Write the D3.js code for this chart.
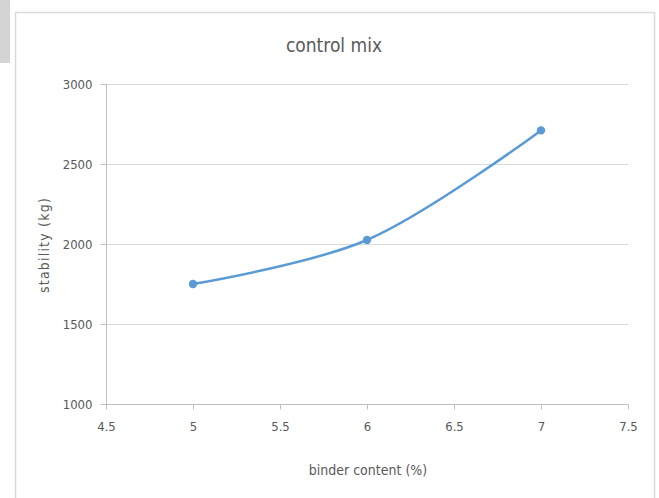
<!DOCTYPE html>
<html>
<head>
<meta charset="utf-8">
<script src="https://cdn.jsdelivr.net/npm/d3@7"></script>
<style>
  html, body { margin: 0; padding: 0; background: #fff; }
  svg text { font-family: "DejaVu Sans Condensed", "Liberation Sans Narrow", "Open Sans", sans-serif; }
</style>
</head>
<body>
<svg id="chart" width="659" height="498"></svg>
<script>
// Binder content (%) vs Marshall stability (kg) for the control mix
const binderContent = [5, 6, 7];
const stability = [1750, 2025, 2710];
const xTicks = [4.5, 5, 5.5, 6, 6.5, 7, 7.5];
const yTicks = [1000, 1500, 2000, 2500, 3000];

const svg = d3.select("#chart");

// chart frame
svg.append("rect").attr("x", 15.5).attr("y", 12.5).attr("width", 639).attr("height", 500)
  .attr("fill", "#fff").attr("stroke", "#d9d9d9").attr("stroke-width", 1.5);

// small gray tab at top-left corner
svg.append("rect").attr("x", 0).attr("y", 0).attr("width", 10).attr("height", 63).attr("fill", "#d4d4d4");

const x = d3.scaleLinear().domain([4.5, 7.5]).range([106, 628]);
const y = d3.scaleLinear().domain([1000, 3000]).range([404, 84]);

// horizontal gridlines
svg.append("g").selectAll("line").data(yTicks.filter(d => d > 1000)).join("line")
  .attr("x1", x(4.5)).attr("x2", x(7.5))
  .attr("y1", d => Math.round(y(d)) + 0.5).attr("y2", d => Math.round(y(d)) + 0.5)
  .attr("stroke", "#d9d9d9").attr("stroke-width", 1);

// y axis
const yAxis = svg.append("g").attr("transform", `translate(${x(4.5) + 0.5},0)`)
  .call(d3.axisLeft(y).tickValues(yTicks).tickSize(6).tickPadding(8).tickFormat(d3.format("d")));
yAxis.select(".domain").attr("stroke", "#bfbfbf").attr("d", `M0,${y(3000)}V${y(1000)}`);
yAxis.selectAll(".tick line").attr("stroke", "#bfbfbf");
yAxis.selectAll(".tick text").attr("fill", "#595959").attr("font-size", 13);

// x axis
const xAxis = svg.append("g").attr("transform", `translate(0,${y(1000) + 0.5})`)
  .call(d3.axisBottom(x).tickValues(xTicks).tickSize(5).tickPadding(12).tickFormat(d => String(d)));
xAxis.select(".domain").attr("stroke", "#bfbfbf").attr("d", `M${x(4.5)},0H${x(7.5)}`);
xAxis.selectAll(".tick line").attr("stroke", "#bfbfbf");
xAxis.selectAll(".tick text").attr("fill", "#595959").attr("font-size", 13);

// title and axis titles
svg.append("text").attr("x", 334).attr("y", 52).attr("text-anchor", "middle")
  .attr("font-size", 19).attr("fill", "#595959").text("control mix");
svg.append("text").attr("x", 368).attr("y", 475).attr("text-anchor", "middle")
  .attr("font-size", 14).attr("fill", "#595959").text("binder content (%)");
svg.append("text").attr("transform", "translate(49,245) rotate(-90)").attr("text-anchor", "middle")
  .attr("font-size", 14).attr("letter-spacing", 1.2).attr("fill", "#595959").text("stability (kg)");

// smoothed series line
const pts = binderContent.map((b, i) => [b, stability[i]]);
const line = d3.line().x(d => x(d[0])).y(d => y(d[1])).curve(d3.curveCatmullRom.alpha(0.5));
svg.append("path").datum(pts).attr("d", line)
  .attr("fill", "none").attr("stroke", "#5b9bd5").attr("stroke-width", 2.5).attr("stroke-linecap", "round");

svg.append("g").selectAll("circle").data(pts).join("circle")
  .attr("cx", d => x(d[0])).attr("cy", d => y(d[1])).attr("r", 4.2)
  .attr("fill", "#5b9bd5");
</script>
</body>
</html>
